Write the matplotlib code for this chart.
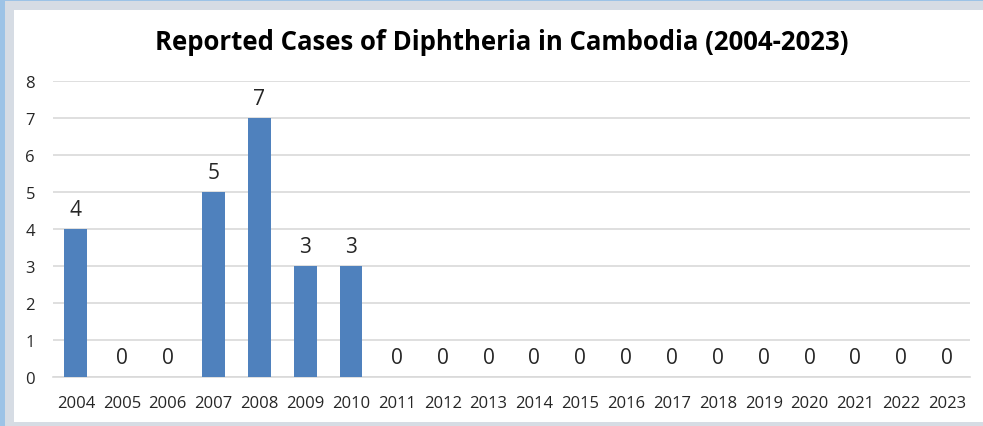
import matplotlib
matplotlib.use("Agg")
import matplotlib.pyplot as plt
from matplotlib.patches import Rectangle

years = [str(y) for y in range(2004, 2024)]
cases = [4, 0, 0, 5, 7, 3, 3, 0, 0, 0, 0, 0, 0, 0, 0, 0, 0, 0, 0, 0]
title = "Reported Cases of Diphtheria in Cambodia (2004-2023)"

plt.rcParams['font.family'] = ['Open Sans', 'DejaVu Sans']

W, H = 983, 427
fig = plt.figure(figsize=(W / 100, H / 100), dpi=100)
fig.patch.set_facecolor('#d6dce4')

def px_rect(x0, y0, x1, y1, color):
    fig.patches.append(Rectangle((x0 / W, 1 - y1 / H), (x1 - x0) / W, (y1 - y0) / H,
                                 transform=fig.transFigure, facecolor=color,
                                 edgecolor='none', zorder=-10))

px_rect(0, 0, 5, H, '#9dc3e6')
px_rect(0, 0, W, 2, '#9dc3e6')
px_rect(14, 11, W, 423, 'white')

ax = fig.add_axes([53 / W, 1 - 378 / H, (970 - 53) / W, (378 - 82) / H])
ax.set_facecolor('none')
x = list(range(len(years)))
bars = ax.bar(x, cases, width=0.5, color='#4f81bd', zorder=3)
for xi, v in zip(x, cases):
    ax.text(xi, v + 0.38, str(v), ha='center', va='baseline', fontsize=15, color='#262626')

ax.set_xlim(-0.5, len(years) - 0.5)
ax.set_ylim(0, 8)
ax.set_yticks(range(0, 9))
ax.set_xticks(x)
ax.set_xticklabels(years)
ax.tick_params(axis='both', length=0, labelsize=12, colors='#262626')
ax.tick_params(axis='y', pad=13)
ax.tick_params(axis='x', pad=13)
ax.grid(axis='y', color='#d9d9d9', linewidth=1.2, zorder=0)
for s in ['top', 'right', 'left']:
    ax.spines[s].set_visible(False)
ax.spines['bottom'].set_color('#d9d9d9')
ax.spines['bottom'].set_linewidth(1.2)

fig.text(501.5 / W, 1 - 43 / H, title, ha='center', va='center',
         fontsize=18.5, fontweight='bold', color='black')

fig.savefig('out.png', dpi=100, facecolor=fig.get_facecolor())
